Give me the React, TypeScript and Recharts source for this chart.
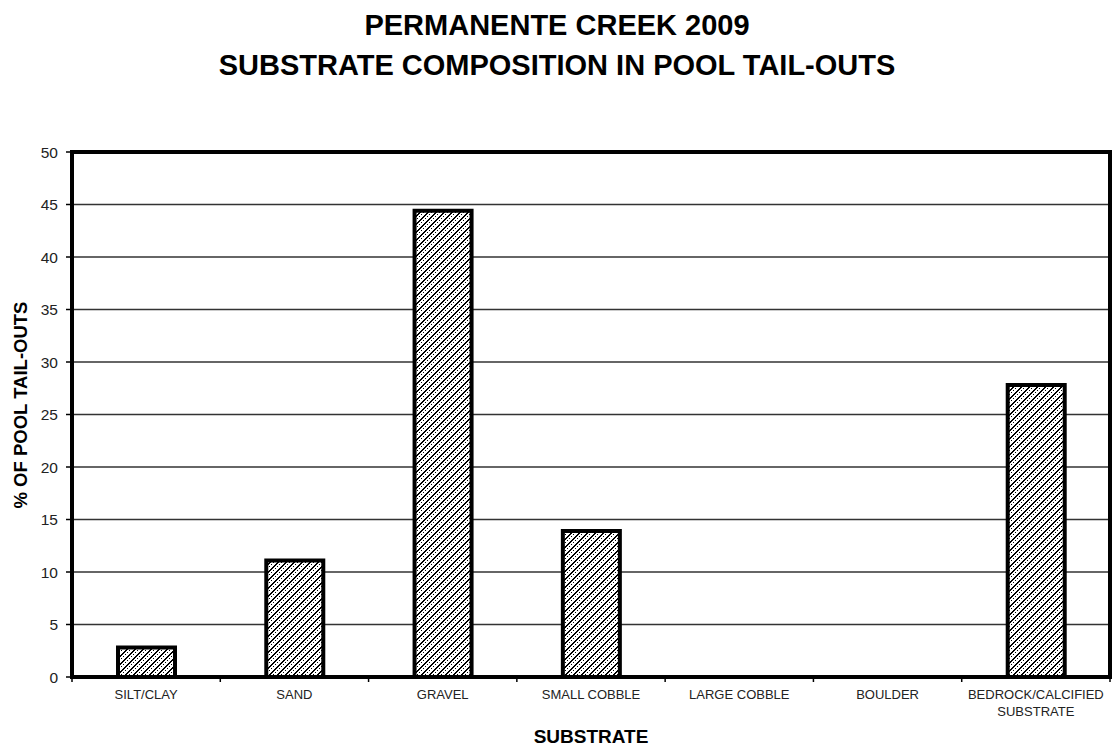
import { BarChart, Bar, XAxis, YAxis, CartesianGrid } from "recharts"

// ── Data ──
const categories = [
  "SILT/CLAY",
  "SAND",
  "GRAVEL",
  "SMALL COBBLE",
  "LARGE COBBLE",
  "BOULDER",
  "BEDROCK/CALCIFIED SUBSTRATE",
]
const percentValues = [2.8, 11.1, 44.4, 13.9, 0, 0, 27.8]
const yTicks = [0, 5, 10, 15, 20, 25, 30, 35, 40, 45, 50]

const data = categories.map((name, i) => ({ name, value: percentValues[i] }))

const FONT = "'Liberation Sans', Arial, sans-serif"
const W = 1114
const H = 751
const MARGIN = { top: 152, right: 4, bottom: 0, left: 20 }
const Y_AXIS_W = 52
const X_AXIS_H = 74
const PLOT_W = W - MARGIN.left - Y_AXIS_W - MARGIN.right
const PLOT_H = H - MARGIN.top - X_AXIS_H
const CAT_W = PLOT_W / categories.length

// ── Hatch tile: solid "/" diagonal with a dotted one between ──
const TILE = 8
const hatchPixels: { x: number; y: number }[] = []
for (let i = 0; i < TILE; i++) {
  hatchPixels.push({ x: (TILE - 1 - i) % TILE, y: i })
  hatchPixels.push({ x: (TILE - i) % TILE, y: i })
  if (i % 2 === 0) hatchPixels.push({ x: (TILE + 3 - i) % TILE, y: i })
}

// category tick: label text plus a small mark at the category boundaries
function CategoryTick(props: any) {
  const { x, y, payload, index } = props
  const label: string = payload.value
  const lines = label.includes("/CALCIFIED ") ? label.split(" ") : [label]
  const left = x - CAT_W / 2
  return (
    <g>
      <line x1={left} y1={y - 8} x2={left} y2={y - 3} stroke="#000" strokeWidth={1.5} />
      {index === categories.length - 1 && (
        <line x1={left + CAT_W} y1={y - 8} x2={left + CAT_W} y2={y - 3} stroke="#000" strokeWidth={1.5} />
      )}
      <text x={x} y={y + 14} textAnchor="middle" fontSize={13} fill="#222" fontFamily={FONT}>
        {lines.map((ln, i) => (
          <tspan key={i} x={x} dy={i === 0 ? 0 : 17}>{ln}</tspan>
        ))}
      </text>
    </g>
  )
}

export default function App() {
  const plotLeft = MARGIN.left + Y_AXIS_W
  return (
    <div style={{ position: "absolute", left: 0, top: 0, width: W, height: H, background: "#fff", fontFamily: FONT }}>
      <div style={{ position: "absolute", top: 5, left: 0, width: W, textAlign: "center", fontWeight: "bold", fontSize: 29, lineHeight: "40px", color: "#000" }}>
        <div>PERMANENTE CREEK 2009</div>
        <div>SUBSTRATE COMPOSITION IN POOL TAIL-OUTS</div>
      </div>
      <div style={{ position: "absolute", left: 21, top: 405, transform: "translate(-50%, -50%) rotate(-90deg)", whiteSpace: "nowrap", fontWeight: "bold", fontSize: 18.5, color: "#000" }}>
        % OF POOL TAIL-OUTS
      </div>
      <div style={{ position: "absolute", left: plotLeft, top: 726, width: PLOT_W, textAlign: "center", fontWeight: "bold", fontSize: 19, color: "#000" }}>
        SUBSTRATE
      </div>
      <BarChart width={W} height={H} data={data} margin={MARGIN} barSize={57}>
        <defs>
          <pattern id="hatch" width={TILE} height={TILE} patternUnits="userSpaceOnUse">
            <rect width={TILE} height={TILE} fill="#fff" />
            {hatchPixels.map((p, i) => (
              <rect key={i} x={p.x} y={p.y} width={1} height={1} fill="#000" shapeRendering="crispEdges" />
            ))}
          </pattern>
        </defs>
        <CartesianGrid vertical={false} stroke="#333" strokeWidth={1.5} />
        <XAxis
          dataKey="name"
          height={X_AXIS_H}
          axisLine={{ stroke: "#000", strokeWidth: 4 }}
          tickLine={false}
          tick={<CategoryTick />}
          interval={0}
        />
        <YAxis
          domain={[0, 50]}
          ticks={yTicks}
          width={Y_AXIS_W}
          axisLine={{ stroke: "#000", strokeWidth: 4 }}
          tickLine={{ stroke: "#000", strokeWidth: 1.5 }}
          tickSize={6}
          tickMargin={8}
          tick={{ fontSize: 15.5, fill: "#222", fontFamily: FONT }}
        />
        <Bar dataKey="value" fill="url(#hatch)" stroke="#000" strokeWidth={4} isAnimationActive={false} />
      </BarChart>
      {/* plot frame */}
      <div style={{ position: "absolute", left: plotLeft - 2, top: MARGIN.top - 2, width: PLOT_W + 4, height: PLOT_H + 4, border: "4px solid #000", boxSizing: "border-box", pointerEvents: "none" }} />
    </div>
  )
}
